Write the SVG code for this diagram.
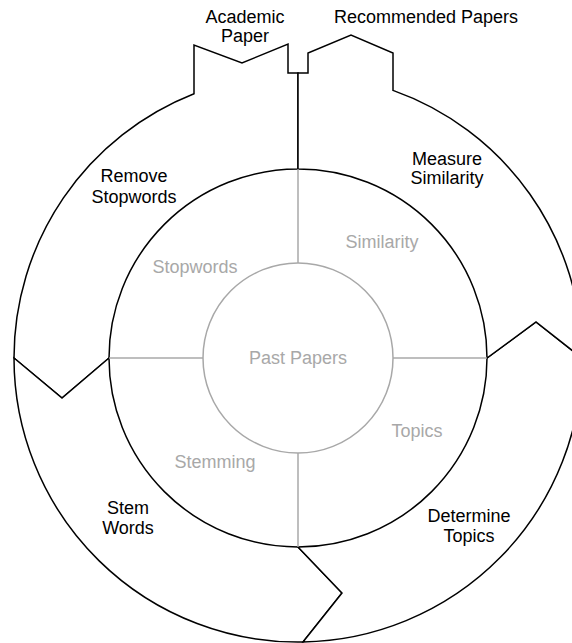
<svg xmlns="http://www.w3.org/2000/svg" width="572" height="643" viewBox="0 0 572 643">
<style>
  .seg { fill: #ffffff; stroke: #000000; stroke-width: 1.5; stroke-linejoin: miter; }
  .lbl { font-family: "Liberation Sans", Arial, sans-serif; font-size: 18px; fill: #000000; text-anchor: middle; }
  .glbl { font-family: "Liberation Sans", Arial, sans-serif; font-size: 18px; fill: #a8a8a8; text-anchor: middle; }
  .gline { stroke: #a8a8a8; stroke-width: 1.5; fill: none; }
  .gcirc { stroke: #a8a8a8; stroke-width: 1.5; fill: #ffffff; }
</style>
<rect width="572" height="643" fill="#ffffff"/>
<g id="remove-stopwords">
  <path class="seg" d="M 298,169 A 189 189 0 0 0 109,358 L 62,398 L 14,358 A 284 284 0 0 1 194,93.7 L 194,45 L 242,63 L 288,44 L 288,73 L 298,73 Z"/>
  <text class="lbl" x="134" y="182">Remove</text>
  <text class="lbl" x="134" y="203">Stopwords</text>
</g>
<g id="stem-words">
  <path class="seg" d="M 109,358 A 189 189 0 0 0 298,547 L 342,593 L 303,642 A 284 284 0 0 1 14,358 L 62,398 Z"/>
  <text class="lbl" x="128" y="514">Stem</text>
  <text class="lbl" x="128" y="534">Words</text>
</g>
<g id="determine-topics">
  <path class="seg" d="M 298,547 A 189 189 0 0 0 487,358 L 536,322 L 582,358 A 284 284 0 0 1 303,642 L 342,593 Z"/>
  <text class="lbl" x="469" y="522">Determine</text>
  <text class="lbl" x="469" y="542">Topics</text>
</g>
<g id="measure-similarity">
  <path class="seg" d="M 487,358 A 189 189 0 0 0 298,169 L 298,73 L 308,73 L 308,53 L 351,35 L 393,53 L 393,90.4 A 284 284 0 0 1 582,358 L 536,322 Z"/>
  <text class="lbl" x="447" y="165">Measure</text>
  <text class="lbl" x="447" y="184">Similarity</text>
</g>
<g id="academic-paper">
  <text class="lbl" x="245" y="23">Academic</text>
  <text class="lbl" x="245" y="42">Paper</text>
</g>
<g id="recommended-papers">
  <text class="lbl" x="426" y="23">Recommended Papers</text>
</g>
<g id="connectors">
  <line class="gline" x1="298" y1="169" x2="298" y2="263"/>
  <line class="gline" x1="109" y1="358" x2="203" y2="358"/>
  <line class="gline" x1="393" y1="358" x2="487" y2="358"/>
  <line class="gline" x1="298" y1="453" x2="298" y2="547"/>
</g>
<g id="past-papers">
  <circle class="gcirc" cx="298" cy="358" r="95"/>
  <text class="glbl" x="298" y="364">Past Papers</text>
</g>
<g id="stopwords"><text class="glbl" x="195" y="273">Stopwords</text></g>
<g id="similarity"><text class="glbl" x="382" y="248">Similarity</text></g>
<g id="topics"><text class="glbl" x="417" y="437">Topics</text></g>
<g id="stemming"><text class="glbl" x="215" y="468">Stemming</text></g>
</svg>
